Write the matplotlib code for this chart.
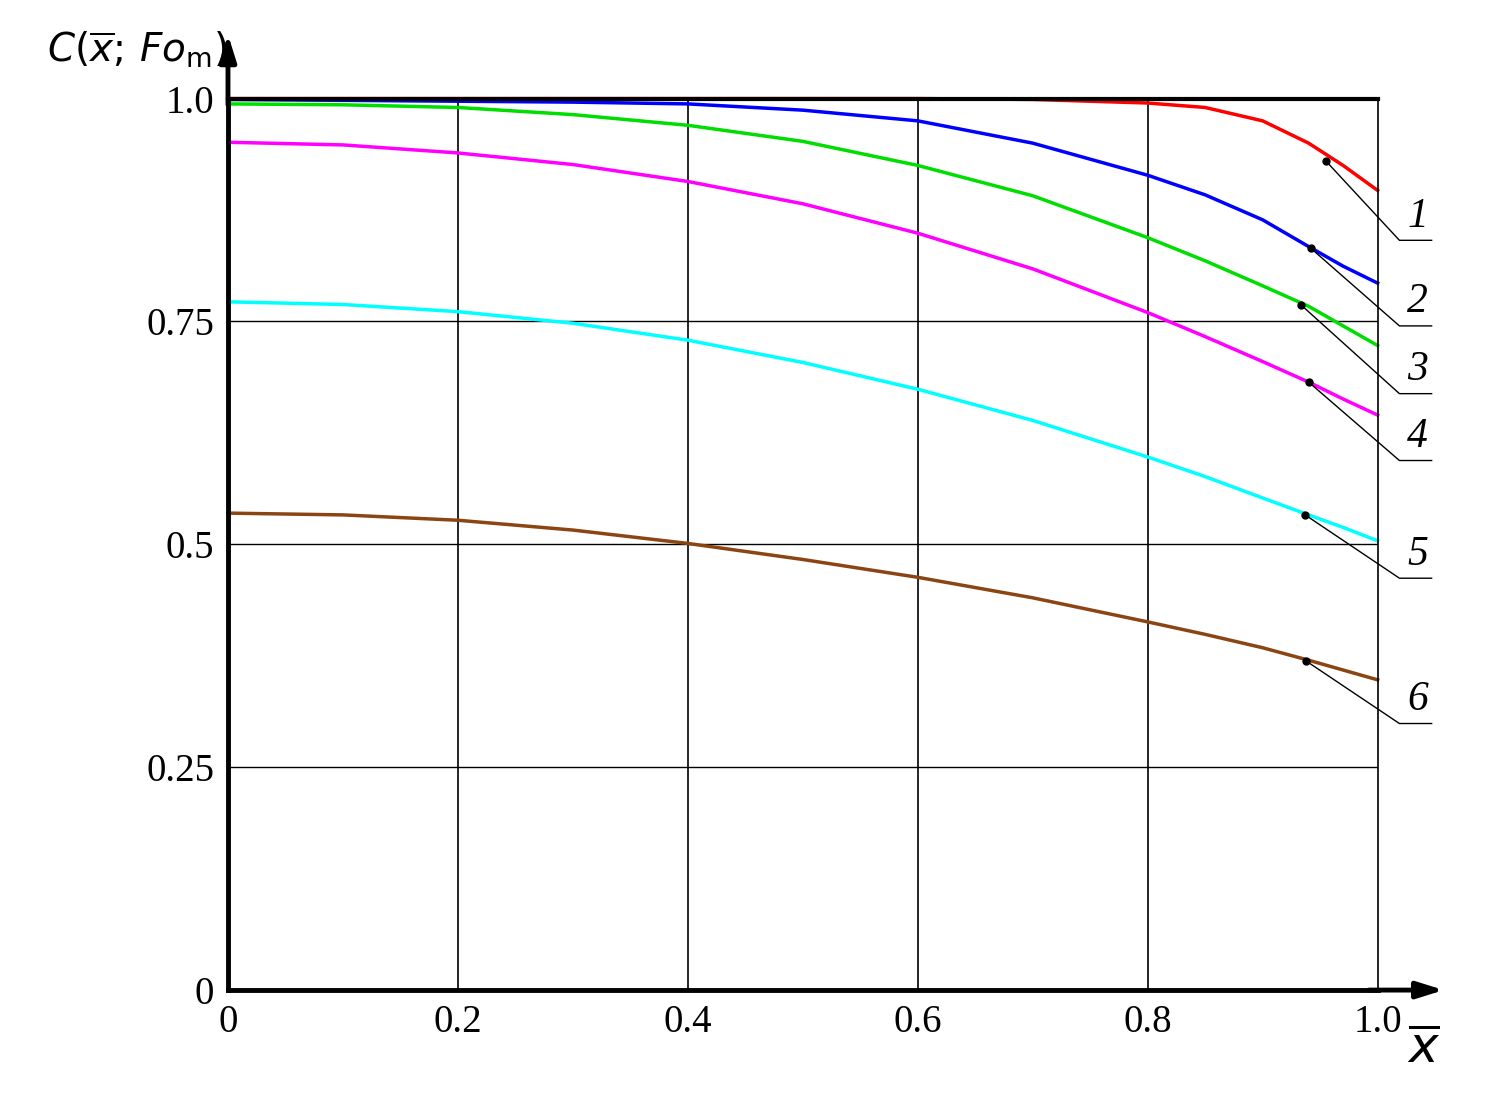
import matplotlib
matplotlib.use("Agg")
import matplotlib.pyplot as plt

x_pts = [0.0, 0.1, 0.2, 0.3, 0.4, 0.5, 0.6, 0.7, 0.8, 0.85, 0.9, 0.94, 0.97, 1.0]
c1 = [1.0, 1.0, 1.0, 1.0, 1.0, 1.0, 1.0, 0.999, 0.995, 0.99, 0.975, 0.95, 0.925, 0.897]
c2 = [0.999, 0.998, 0.997, 0.996, 0.994, 0.987, 0.975, 0.950, 0.914, 0.892, 0.864, 0.834, 0.812, 0.793]
c3 = [0.994, 0.993, 0.990, 0.982, 0.970, 0.952, 0.925, 0.891, 0.844, 0.818, 0.790, 0.767, 0.745, 0.723]
c4 = [0.951, 0.948, 0.939, 0.926, 0.907, 0.882, 0.849, 0.809, 0.760, 0.733, 0.705, 0.682, 0.663, 0.645]
c5 = [0.772, 0.769, 0.761, 0.748, 0.729, 0.704, 0.674, 0.639, 0.598, 0.576, 0.552, 0.533, 0.519, 0.504]
c6 = [0.535, 0.533, 0.527, 0.516, 0.501, 0.483, 0.463, 0.440, 0.413, 0.399, 0.384, 0.370, 0.359, 0.348]
curves = [c1, c2, c3, c4, c5, c6]
colors = ["#ff0000", "#0000ff", "#00dd00", "#ff00ff", "#00ffff", "#8b4513"]
labels = ["1", "2", "3", "4", "5", "6"]

# callout anchor on curve, then leader end and label position
dot_x = [0.955, 0.942, 0.933, 0.94, 0.937, 0.938]
dot_y = [0.93, 0.832, 0.769, 0.682, 0.533, 0.369]
lead_y = [0.841, 0.745, 0.669, 0.594, 0.462, 0.299]

xticks = [0, 0.2, 0.4, 0.6, 0.8, 1.0]
xtick_labels = ["0", "0.2", "0.4", "0.6", "0.8", "1.0"]
yticks = [0, 0.25, 0.5, 0.75, 1.0]
ytick_labels = ["0", "0.25", "0.5", "0.75", "1.0"]

plt.rcParams["font.family"] = ["Liberation Serif", "DejaVu Serif"]
fig = plt.figure(figsize=(14.93, 11.2), dpi=100)
ax = fig.add_axes([0.1527, 0.116, 0.770, 0.796])
ax.set_xlim(0, 1.0)
ax.set_ylim(0, 1.0)

for v in [0.2, 0.4, 0.6, 0.8]:
    ax.axvline(v, color="black", lw=1.2)
for v in [0.25, 0.5, 0.75]:
    ax.axhline(v, color="black", lw=1.0)

for c, col in zip(curves, colors):
    ax.plot(x_pts, c, color=col, lw=2.5, clip_on=False)

for dx, dy, ly, lab in zip(dot_x, dot_y, lead_y, labels):
    ax.plot([dx], [dy], "o", color="black", ms=5, clip_on=False)
    ax.plot([dx, 1.019, 1.047], [dy, ly, ly], color="black", lw=1.0, clip_on=False)
    ax.text(1.035, ly + 0.005, lab, fontsize=30, style="italic", ha="center", va="bottom")

for s in ["left", "bottom"]:
    ax.spines[s].set_linewidth(3.5)
ax.spines["top"].set_linewidth(3)
ax.spines["right"].set_linewidth(1.2)
ax.set_xticks(xticks, xtick_labels)
ax.set_yticks(yticks, ytick_labels)
ax.tick_params(length=0, labelsize=28, pad=10)
ax.grid(False)

# axis arrows
ax.annotate("", xy=(0, 1.075), xytext=(0, 0.99), annotation_clip=False,
            arrowprops=dict(arrowstyle="-|>,head_width=0.5,head_length=1.6", color="black", lw=3.5))
ax.annotate("", xy=(1.06, 0), xytext=(0.99, 0), annotation_clip=False,
            arrowprops=dict(arrowstyle="-|>,head_width=0.5,head_length=1.6", color="black", lw=3.5))

ax.text(-0.157, 1.055, r"$C(\overline{x};\,Fo_{\rm m})$", fontsize=28, ha="left", va="center",
        family="DejaVu Sans")
ax.text(1.04, -0.065, r"$\overline{x}$", fontsize=36, ha="center", va="center", family="DejaVu Sans")

fig.savefig("out.png", dpi=100)
